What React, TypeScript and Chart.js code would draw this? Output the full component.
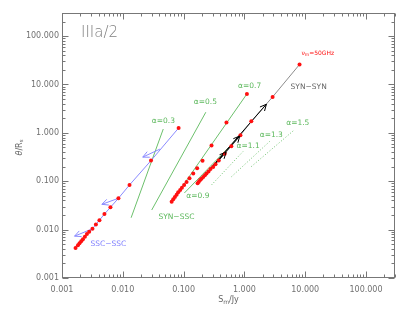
import { useEffect, useRef } from "react";
import { Chart, registerables } from "chart.js";
Chart.register(...registerables);

// ---- data ----
const decades = [0.001, 0.01, 0.1, 1, 10, 100];
const tickLabels = ["0.001", "0.010", "0.100", "1.000", "10.000", "100.000"];

const sscX = [0.00167, 0.00183, 0.00194, 0.00207, 0.00221, 0.00238, 0.00257, 0.0028, 0.00317, 0.00361, 0.00413, 0.00499, 0.00626, 0.00847, 0.0129, 0.0291, 0.0828];
const sscY = [0.00419, 0.00477, 0.00525, 0.00577, 0.00635, 0.00709, 0.00807, 0.00901, 0.0104, 0.0128, 0.0157, 0.021, 0.0289, 0.0444, 0.0838, 0.267, 1.26];

const synSscX = [0.0636, 0.0676, 0.072, 0.0768, 0.0815, 0.0879, 0.0938, 0.102, 0.112, 0.125, 0.144, 0.167, 0.205, 0.288, 0.507, 1.1];
const synSscY = [0.0377, 0.0424, 0.0472, 0.0527, 0.0591, 0.066, 0.0737, 0.0838, 0.0967, 0.115, 0.144, 0.186, 0.264, 0.548, 1.64, 6.38];

const synSynX = [0.17, 0.178, 0.187, 0.197, 0.21, 0.224, 0.238, 0.257, 0.277, 0.306, 0.335, 0.379, 0.475, 0.61, 0.86, 1.3, 2.91, 8.07];
const synSynY = [0.091, 0.098, 0.106, 0.113, 0.123, 0.133, 0.144, 0.158, 0.178, 0.198, 0.225, 0.268, 0.37, 0.53, 0.89, 1.73, 5.53, 25.9];

// blue arrows (tail -> tip)
const sscArrowTailX = [0.00317, 0.00847, 0.0408];
const sscArrowTailY = [0.0104, 0.0444, 0.461];
const sscArrowTipX = [0.00161, 0.00453, 0.0213];
const sscArrowTipY = [0.00733, 0.0333, 0.315];

// black arrows along SYN-SYN (all from first point)
const synArrowTipX = [0.5, 0.84, 2.3];
const synArrowTipY = [0.4, 0.86, 3.9];

// alpha lines (start/end)
const alphaNames = ["0.3", "0.5", "0.7", "0.9", "1.1", "1.3", "1.5"];
const alphaX0 = [0.0137, 0.0299, 0.0636, 0.103, 0.288, 0.613, 1.3];
const alphaY0 = [0.0176, 0.0254, 0.0377, 0.0572, 0.0838, 0.124, 0.201];
const alphaX1 = [0.0463, 0.232, 1.1, 0.87, 0.948, 2.6, 6.68];
const alphaY1 = [1.2, 2.67, 6.38, 0.9, 0.411, 0.664, 1.16];
const alphaDotted = [false, false, false, false, true, true, true];

// text labels (data-space anchors, centred)
const alphaLabelX = [0.0466, 0.228, 1.22, 0.172, 1.15, 2.77, 7.56];
const alphaLabelY = [1.78, 4.36, 9.48, 0.0503, 0.527, 0.913, 1.6];
const trackNames = ["SSC\u2212SSC", "SYN\u2212SSC", "SYN\u2212SYN"];
const trackLabelX = [0.0058, 0.0762, 11.4];
const trackLabelY = [0.005, 0.0184, 8.75];
const trackColors = ["#8080ff", "#5cb85c", "#666666"];
const nuLabelX = 16.1;
const nuLabelY = 43.8;

const GREEN = "#6cc06c";
const BLUE = "#8a8aff";
const RED = "#ff1010";
const FONT = "'DejaVu Sans', sans-serif";

const pts = (xs: number[], ys: number[]) => xs.map((x, i) => ({ x, y: ys[i] }));

const overlay = {
  id: "overlay",
  afterDatasetsDraw(chart: any) {
    const { ctx, chartArea: a, scales } = chart;
    const xs = scales.x, ys = scales.y;
    ctx.save();
    // arrowheads
    chart.data.datasets.forEach((ds: any, i: number) => {
      if (!ds.arrowHead) return;
      const d = chart.getDatasetMeta(i).data;
      const p = d[d.length - 2], q = d[d.length - 1];
      const ang = Math.atan2(q.y - p.y, q.x - p.x);
      const L = 7, h = 0.45;
      ctx.strokeStyle = ds.borderColor;
      ctx.lineWidth = 1;
      ctx.beginPath();
      ctx.moveTo(q.x - L * Math.cos(ang - h), q.y - L * Math.sin(ang - h));
      ctx.lineTo(q.x, q.y);
      ctx.lineTo(q.x - L * Math.cos(ang + h), q.y - L * Math.sin(ang + h));
      ctx.stroke();
    });
    // frame
    ctx.strokeStyle = "#777";
    ctx.lineWidth = 1;
    const L = Math.round(a.left) + 0.5, R = Math.round(a.right) - 0.5;
    const T = Math.round(a.top) + 0.5, B = Math.round(a.bottom) - 0.5;
    ctx.strokeRect(L, T, R - L, B - T);
    ctx.beginPath();
    for (let e = -3; e <= 2; e++) {
      for (let m = 1; m <= 9; m++) {
        const v = m * Math.pow(10, e);
        if (v > 300.0001) break;
        const len = m === 1 ? 6 : 3;
        const px = Math.round(xs.getPixelForValue(v)) + 0.5;
        ctx.moveTo(px, B); ctx.lineTo(px, B - len);
        ctx.moveTo(px, T); ctx.lineTo(px, T + len);
        const py = Math.round(ys.getPixelForValue(v)) + 0.5;
        ctx.moveTo(L, py); ctx.lineTo(L + len, py);
        ctx.moveTo(R, py); ctx.lineTo(R - len, py);
      }
    }
    ctx.stroke();
    // labels
    ctx.textAlign = "center";
    ctx.textBaseline = "middle";
    ctx.font = `7.5px ${FONT}`;
    alphaNames.forEach((n, i) => {
      ctx.fillStyle = "#5cb85c";
      ctx.fillText("\u03b1=" + n, xs.getPixelForValue(alphaLabelX[i]), ys.getPixelForValue(alphaLabelY[i]));
    });
    trackNames.forEach((n, i) => {
      ctx.fillStyle = trackColors[i];
      ctx.fillText(n, xs.getPixelForValue(trackLabelX[i]), ys.getPixelForValue(trackLabelY[i]));
    });
    // nu_m = 50GHz
    {
      const cx = xs.getPixelForValue(nuLabelX), cy = ys.getPixelForValue(nuLabelY);
      ctx.fillStyle = RED;
      ctx.textAlign = "left";
      ctx.font = `6px ${FONT}`;
      const w1 = ctx.measureText("\u03bd").width;
      ctx.font = `4.5px ${FONT}`;
      const w2 = ctx.measureText("m").width;
      ctx.font = `6px ${FONT}`;
      const w3 = ctx.measureText("=50GHz").width;
      let x0 = cx - (w1 + w2 + w3) / 2;
      ctx.fillText("\u03bd", x0, cy);
      ctx.font = `4.5px ${FONT}`;
      ctx.fillText("m", x0 + w1, cy + 1.5);
      ctx.font = `6px ${FONT}`;
      ctx.fillText("=50GHz", x0 + w1 + w2, cy);
    }
    // panel label
    ctx.fillStyle = "#808080";
    ctx.textAlign = "left";
    ctx.font = `200 15px ${FONT}`;
    ctx.fillText("IIIa/2", 81, 33);
    // x title
    {
      ctx.fillStyle = "#666";
      ctx.font = `8px ${FONT}`;
      const w1 = ctx.measureText("S").width;
      ctx.font = `6px ${FONT}`;
      const w2 = ctx.measureText("m").width;
      ctx.font = `8px ${FONT}`;
      const w3 = ctx.measureText("/Jy").width;
      const cx = (a.left + a.right) / 2;
      let x0 = cx - (w1 + w2 + w3) / 2;
      const yy = 300;
      ctx.fillText("S", x0, yy);
      ctx.font = `6px ${FONT}`;
      ctx.fillText("m", x0 + w1, yy + 2);
      ctx.font = `8px ${FONT}`;
      ctx.fillText("/Jy", x0 + w1 + w2, yy);
    }
    // y title
    {
      ctx.save();
      ctx.translate(20, (a.top + a.bottom) / 2 + 2);
      ctx.rotate(-Math.PI / 2);
      ctx.fillStyle = "#666";
      ctx.font = `italic 8px ${FONT}`;
      const w1 = ctx.measureText("\u03b8").width;
      ctx.font = `8px ${FONT}`;
      const w2 = ctx.measureText("/R").width;
      ctx.font = `5.5px ${FONT}`;
      const w3 = ctx.measureText("s").width;
      let x0 = -(w1 + w2 + w3) / 2;
      ctx.font = `italic 8px ${FONT}`;
      ctx.fillText("\u03b8", x0, 0);
      ctx.font = `8px ${FONT}`;
      ctx.fillText("/R", x0 + w1, 0);
      ctx.font = `5.5px ${FONT}`;
      ctx.fillText("s", x0 + w1 + w2, 2);
      ctx.restore();
    }
    ctx.restore();
  },
};

export default function App() {
  const ref = useRef<HTMLCanvasElement | null>(null);
  useEffect(() => {
    if (!ref.current) return;
    const dots = (xs: number[], ys: number[]) => ({
      data: pts(xs, ys),
      showLine: false,
      pointRadius: 2,
      pointBackgroundColor: RED,
      pointBorderWidth: 0,
      borderColor: RED,
    });
    const line = (data: any[], color: string, extra: any = {}) => ({
      data,
      showLine: true,
      pointRadius: 0,
      borderColor: color,
      borderWidth: 1,
      tension: 0,
      ...extra,
    });
    const datasets: any[] = [
      dots(sscX, sscY),
      dots(synSscX, synSscY),
      dots(synSynX, synSynY),
      ...synArrowTipX.map((tx, i) =>
        line([{ x: synSynX[0], y: synSynY[0] }, { x: tx, y: synArrowTipY[i] }], "#000000", { arrowHead: true })
      ),
      line(pts(synSynX, synSynY), "#8c8c8c"),
      ...sscArrowTailX.map((tx, i) =>
        line([{ x: tx, y: sscArrowTailY[i] }, { x: sscArrowTipX[i], y: sscArrowTipY[i] }], BLUE, { arrowHead: true })
      ),
      line(pts(sscX, sscY), BLUE),
      ...alphaNames.map((_, i) =>
        line([{ x: alphaX0[i], y: alphaY0[i] }, { x: alphaX1[i], y: alphaY1[i] }], GREEN, alphaDotted[i] ? { borderDash: [1, 2] } : {})
      ),
    ];
    const axis = (pos: string) => ({
      type: "logarithmic",
      position: pos,
      min: 0.001,
      max: 300,
      afterBuildTicks: (s: any) => {
        s.ticks = decades.map((v) => ({ value: v }));
      },
      afterFit: (s: any) => {
        if (pos === "left") s.width = 62;
        else s.height = 33;
      },
      grid: { display: false, drawTicks: false },
      border: { display: false },
      ticks: {
        autoSkip: false,
        maxRotation: 0,
        padding: pos === "left" ? 3 : 7,
        color: "#707070",
        font: { family: "DejaVu Sans", size: 8 },
        callback: (_v: any, i: number) => tickLabels[i],
      },
    });
    const chart = new Chart(ref.current, {
      type: "scatter",
      data: { datasets },
      options: {
        animation: false,
        responsive: false,
        devicePixelRatio: 1,
        layout: { padding: { top: 13, right: 19, left: 0, bottom: 0 } },
        plugins: { legend: { display: false }, tooltip: { enabled: false } },
        scales: { x: axis("bottom") as any, y: axis("left") as any },
      },
      plugins: [overlay],
    });
    return () => chart.destroy();
  }, []);
  return (
    <div style={{ position: "fixed", left: 0, top: 0, width: 414, height: 311, background: "#fff" }}>
      <canvas ref={ref} width={414} height={311} />
    </div>
  );
}
